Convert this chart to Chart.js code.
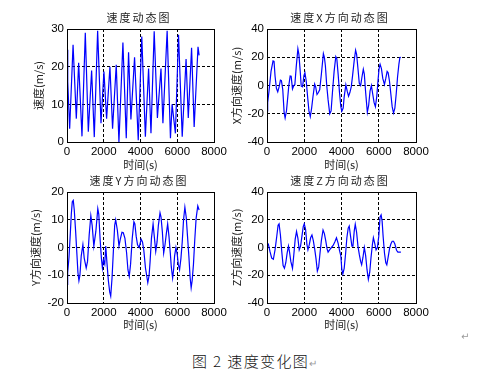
<!DOCTYPE html>
<html><head><meta charset="utf-8">
<script src="https://cdn.jsdelivr.net/npm/chart.js@4/dist/chart.umd.min.js"></script>
<style>
html,body{margin:0;padding:0;background:#fff;}
body{width:496px;height:381px;position:relative;overflow:hidden;}
canvas{position:absolute;}
#cap{position:absolute;left:192px;top:351px;font-family:"Noto Sans CJK SC",sans-serif;font-weight:300;font-size:15px;letter-spacing:1.4px;line-height:20px;color:#111;white-space:pre;}
.ret{color:#9a9a9a;font-size:10px;font-family:"DejaVu Sans",sans-serif;letter-spacing:0;}
#ret1{position:absolute;left:461px;top:331px;line-height:12px;}
</style></head><body>
<canvas id="c1"></canvas><canvas id="c2"></canvas><canvas id="c3"></canvas><canvas id="c4"></canvas>
<div id="cap">图 2 速度变化图<span class="ret">↵</span></div>
<div id="ret1" class="ret">↵</div>
<script>
// ---- data (time in s, values in m/s) ----
const xTickLabels = ['0','2000','4000','6000','8000'];
const titles = ['速度动态图','速度X方向动态图','速度Y方向动态图','速度Z方向动态图'];
const yTitles = ['速度(m/s)','X方向速度(m/s)','Y方向速度(m/s)','Z方向速度(m/s)'];
const xTitle = '时间(s)';

const tSpeed = [0,40,145,330,507,634,815,996,1160,1340,1485,1667,1850,2010,2155,2337,2480,2680,2826,3043,3225,3350,3478,3677,3877,4070,4265,4440,4570,4745,4920,5115,5220,5450,5630,5720,5900,6070,6270,6480,6600,6780,6920,7130,7190];
const vSpeed = [24.5,16,3.5,25.8,6.2,21,1.5,29,2.7,19,1.3,29.5,5,18.7,6.2,20,3.5,20.5,0,26.4,1,23.8,6,22.5,0.5,28,1.4,19.5,2.3,29.4,6.4,19.5,5,29.5,1,10,2.3,28.5,1.4,22,6.4,25,4,25.3,23];

const tX = [0,36,108,216,324,378,432,505,577,649,721,775,847,919,973,1045,1117,1171,1243,1297,1369,1441,1495,1568,1658,1712,1784,1838,1910,1982,2036,2108,2180,2252,2324,2396,2468,2559,2613,2685,2757,2829,2919,3027,3081,3135,3207,3279,3369,3441,3514,3604,3694,3748,3820,3892,3964,4018,4090,4144,4234,4306,4378,4450,4523,4595,4685,4757,4811,4883,4955,5027,5099,5171,5225,5297,5387,5459,5532,5604,5676,5748,5820,5892,5964,6018,6072,6144,6216,6306,6378,6450,6505,6577,6649,6721,6793,6865,6937,7009,7081,7135,7189];
const vX = [-18,-12,-4,10,17.4,17,6.7,-2,-4.5,-1,3.8,3.5,-3,-19,-23,-18,-8,0,6.7,6.5,-2.4,0,0.5,13,26,22,10,-0.5,-1,7,9,3,-8,-18,-22,-16,-8,1,-1,-6.4,-5,-3,8,22.6,20,14,0,-10,-20,-18,-5,10,20.5,19,8,-5,-15,-18.3,-16,-8,0.5,-4,-7.6,-5,-1,7,18,25,22,12,1.5,0,6,11.5,8,-5,-19,-14,-4,0,-6,-12,-15,-8,4,12,15,12,5,0.7,5,10,9,3,-6,-15,-19.5,-16,-6,6,15,19.8,20];

const tY = [0,36,108,180,234,288,342,396,468,541,595,649,703,775,865,937,1045,1117,1207,1297,1369,1460,1568,1676,1730,1802,1874,1928,1982,2055,2108,2180,2252,2324,2379,2451,2523,2595,2649,2739,2829,2901,2991,3063,3153,3244,3316,3388,3460,3550,3640,3694,3766,3838,3928,4036,4108,4180,4270,4397,4469,4523,4595,4685,4757,4829,4901,4973,5063,5117,5189,5261,5334,5406,5478,5550,5622,5676,5748,5802,5856,5928,6000,6054,6127,6199,6271,6343,6415,6487,6559,6631,6703,6757,6811,6883,6955,7027,7117,7189];
const vY = [-13.3,-9,-3.6,5,12,16.5,17,13.5,6,-2.6,-9,-12,-10,-3,1,-3.8,-7.4,-5,4.5,11.5,8,0.5,5.7,14,12,3,-4,-7.4,-4.5,-6,0.5,-6,-12,-16,-17.5,-11,-1.4,8,10,6.3,0.5,3,5.5,5.3,3.3,-2,-8,-10.4,-6,3.3,9.3,8.5,4,1,0,3,2,-1,-7.4,-12.7,-10,-5,3.3,8.5,3.5,-1.4,2,8,12.5,11,5.7,-2,1,5,8.5,4,-2,-7,-11,-8,-3,0,-2.5,-6,-8,-4,2,10,14.5,11,4,-3,-11,-14.5,-12,-6,3,10.5,15,13.5];

const tZ = [0,72,162,252,342,432,523,595,649,721,793,865,937,1009,1081,1153,1207,1279,1369,1441,1514,1586,1658,1730,1802,1874,1946,2000,2072,2144,2198,2270,2342,2414,2487,2559,2631,2703,2775,2847,2919,3009,3081,3153,3225,3280,3370,3460,3550,3640,3730,3820,3892,3964,4018,4072,4144,4216,4288,4360,4415,4487,4559,4613,4685,4739,4811,4883,4955,5027,5082,5154,5226,5298,5370,5442,5514,5586,5658,5712,5784,5856,5928,6000,6072,6127,6181,6235,6307,6379,6433,6505,6577,6649,6721,6793,6865,6955,7027,7135,7189];
const vZ = [3.8,2.4,-3,-7.6,-8.5,-1.7,7.9,16,17,9,-3,-13,-15,-11,-4,1,-3,-10,-15,-5,6,11.5,6.7,-1.7,1,8,15,17,13,2,-1.7,2,7,9,5,-1,-8,-17,-14,-4,5,12.6,10,5,-1,-3.3,-1.5,0,1.5,4,7,3,-2,-6,-16,-19,-15,-5,7,14,15.5,8,1,1,12,16.7,11,1,-5,-10,-12.4,-7,0,-6,-16,-23,-18,-7,2,7,3,-1.7,0,8,22,23.5,19,8,-4,-11,-12.5,-7,-1,2.5,4.5,4.5,2.5,-2,-3.3,-3.3,-3.3];

const yRanges = [[0,30,10],[-40,40,20],[-20,20,10],[-40,40,20]];
const series = [[tSpeed,vSpeed],[tX,vX],[tY,vY],[tZ,vZ]];

// ---- layout (canvas placement & chart-area geometry) ----
const boxes = [
  {id:'c1', left:0,   top:0,   w:240, h:172, yw:67, pt:29, pr:26, xh:30, ytp:32.4},
  {id:'c2', left:220, top:0,   w:276, h:172, yw:47, pt:29, pr:80, xh:30, ytp:10.4},
  {id:'c3', left:0,   top:170, w:240, h:162, yw:67, pt:22, pr:26, xh:29, ytp:29.4},
  {id:'c4', left:220, top:170, w:276, h:162, yw:47, pt:22, pr:80, xh:29, ytp:10.1}
];

const framePlugin = {
  id: 'frame',
  afterDatasetsDraw(chart, args, opts) {
    const {ctx, chartArea: a} = chart;
    ctx.save();
    ctx.strokeStyle = '#000'; ctx.lineWidth = 1; ctx.setLineDash([]);
    ctx.strokeRect(Math.round(a.left) + 0.5, Math.round(a.top) + 0.5,
                   Math.round(a.right - a.left), Math.round(a.bottom - a.top));
    ctx.restore();
  },
  afterDraw(chart, args, opts) {
    const {ctx, chartArea: a} = chart;
    ctx.save();
    ctx.font = '11px "Noto Sans CJK SC", sans-serif';
    ctx.fillStyle = '#222';
    ctx.textAlign = 'center';
    ctx.textBaseline = 'middle';
    try { ctx.letterSpacing = '2px'; } catch (e) {}
    ctx.fillText(opts.text, (a.left + a.right) / 2 - 1.5, a.top - 11.5);
    ctx.restore();
  }
};

const tickFont = {family: '"Liberation Sans", Arial, sans-serif', size: 11.5};
const titleFont = {family: '"Noto Sans CJK SC", sans-serif', size: 11};

boxes.forEach((b, i) => {
  const cv = document.getElementById(b.id);
  cv.width = b.w; cv.height = b.h;
  cv.style.left = b.left + 'px'; cv.style.top = b.top + 'px';
  cv.style.width = b.w + 'px'; cv.style.height = b.h + 'px';
  const [ts, vs] = series[i];
  const [ymin, ymax, ystep] = yRanges[i];
  const gridColor = c => (c.tick && (c.tick.value === c.scale.min || c.tick.value === c.scale.max)) ? 'rgba(0,0,0,0)' : '#000';
  new Chart(cv, {
    type: 'line',
    data: { datasets: [{
      data: ts.map((t, k) => ({x: t, y: vs[k]})),
      borderColor: '#0000ff', borderWidth: 1.2, pointRadius: 0, tension: 0, fill: false
    }]},
    options: {
      responsive: false, animation: false, devicePixelRatio: 1,
      layout: { padding: {left: 0, top: b.pt, right: b.pr, bottom: 0} },
      plugins: { legend: {display: false}, tooltip: {enabled: false}, title: {display: false},
                 frame: { text: titles[i] } },
      scales: {
        x: {
          type: 'linear', min: 0, max: 8000,
          afterFit: s => { s.height = b.xh; },
          ticks: { stepSize: 2000, font: tickFont, color: '#000', padding: 3, maxRotation: 0,
                   callback: v => xTickLabels[Math.round(v / 2000)] },
          grid: { color: gridColor, lineWidth: 1, drawTicks: false },
          border: { display: false, dash: [3, 2] },
          title: { display: true, text: xTitle, font: titleFont, color: '#222', padding: {top: 0, bottom: 0.4} }
        },
        y: {
          min: ymin, max: ymax,
          afterFit: s => { s.width = b.yw; },
          ticks: { stepSize: ystep, font: tickFont, color: '#000', padding: 3, callback: v => String(v) },
          grid: { color: gridColor, lineWidth: 1, drawTicks: false },
          border: { display: false, dash: [3, 2] },
          title: { display: true, text: yTitles[i], font: titleFont, color: '#222', padding: {top: b.ytp, bottom: 0} }
        }
      }
    },
    plugins: [framePlugin]
  });
});
</script>
</body></html>
